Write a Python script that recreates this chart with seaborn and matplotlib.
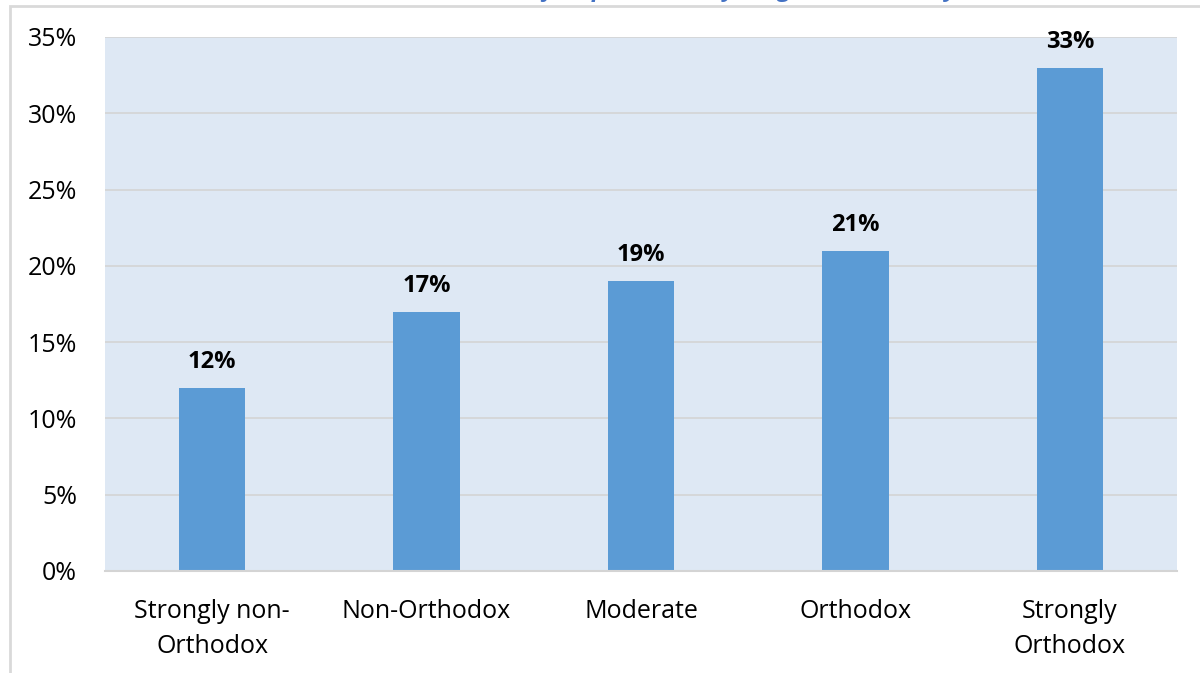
import matplotlib
matplotlib.use("Agg")
import matplotlib.pyplot as plt
import matplotlib.patches as patches
import seaborn as sns
import pandas as pd

# data
categories = ["Strongly non-\nOrthodox", "Non-Orthodox", "Moderate", "Orthodox", "Strongly\nOrthodox"]
values = [12, 17, 19, 21, 33]
yticks = [0, 5, 10, 15, 20, 25, 30, 35]
title = "Share of respondents, by religious orthodoxy"

sns.set_style("white")
plt.rcParams['font.family'] = ['Open Sans', 'DejaVu Sans']
plt.rcParams['text.color'] = 'black'
plt.rcParams['xtick.color'] = 'black'
plt.rcParams['ytick.color'] = 'black'

df = pd.DataFrame({"cat": categories, "val": values})

fig = plt.figure(figsize=(12, 6.73), dpi=100)
ax = fig.add_axes([105/1200, 1-571/673, 1072/1200, (571-37)/673])

sns.barplot(data=df, x="cat", y="val", color="#5B9BD5", saturation=1, width=0.31,
            edgecolor="none", linewidth=0, ax=ax)

ax.set_facecolor("#DEE8F4")
ax.set_xlim(-0.5, 4.5)
ax.set_ylim(0, 35)
ax.set_yticks(yticks)
ax.set_yticklabels([f"{t}%" for t in yticks], fontsize=18)
ax.tick_params(axis='x', labelsize=18, length=0, pad=20)
ax.tick_params(axis='y', length=0, pad=20)
ax.set_xlabel("")
ax.set_ylabel("")
ax.yaxis.grid(True, color="#D4D4D4", linewidth=1.2)
ax.set_axisbelow(True)
for s in ["top", "right", "left"]:
    ax.spines[s].set_visible(False)
ax.spines["bottom"].set_color("#D4D4D4")
ax.spines["bottom"].set_linewidth(1.5)
for lbl in ax.get_xticklabels():
    lbl.set_linespacing(1.55)

for i, v in enumerate(values):
    ax.annotate(f"{v}%", (i, v), xytext=(0, 10), textcoords="offset points",
                ha="center", va="bottom", fontsize=17, fontweight="bold")

# outer chart frame (light grey)
fig.patches.append(patches.Rectangle((10/1200, -0.01), 1.2, 1 - 6/673 + 0.01,
                   transform=fig.transFigure, fill=False, edgecolor="#D9D9D9", linewidth=2))

# title, mostly clipped above the image
fig.text(0.59, 1 + 4/673, title, ha="center", va="baseline", fontsize=17,
         fontweight="bold", style="italic", color="#4472C4")

fig.savefig("out.png", dpi=100)
